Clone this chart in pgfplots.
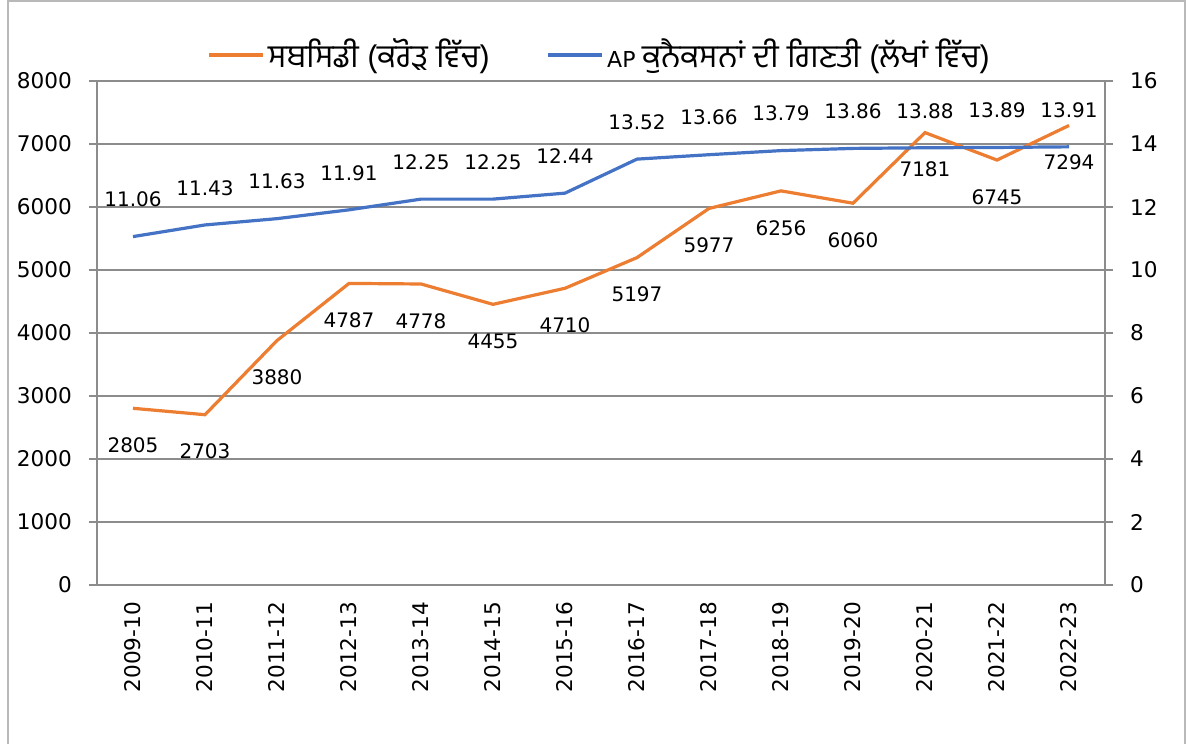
\documentclass[border=0pt]{standalone}
\usepackage{pgfplots}
\pgfplotsset{compat=1.18}
\usepackage{pgfplotstable}
\usepackage{fontspec}
\setmainfont{DejaVu Sans}
\newfontfamily\gur[Script=Gurmukhi]{Hind Jalandhar}
\definecolor{corange}{HTML}{ED7D31}
\definecolor{cblue}{HTML}{4472C4}
\definecolor{cgrid}{HTML}{8C8C8C}
\pgfplotstableread{
x sub nets
0 2805 11.06
1 2703 11.43
2 3880 11.63
3 4787 11.91
4 4778 12.25
5 4455 12.25
6 4710 12.44
7 5197 13.52
8 5977 13.66
9 6256 13.79
10 6060 13.86
11 7181 13.88
12 6745 13.89
13 7294 13.91
}\datatab
\begin{document}
\begin{tikzpicture}
\path[use as bounding box] (-48.5bp,-79.5bp) rectangle (547.5bp,292.5bp);
\fill[white] (-48.5bp,-79.5bp) rectangle (547.5bp,292.5bp);
\draw[gray!55, line width=0.8bp] (-44.5bp,-80bp) -- (-44.5bp,292bp) -- (544bp,292bp) -- (544bp,-80bp);
\pgfplotsset{
  every axis/.append style={
    scale only axis, width=504bp, height=252bp,
    at={(0,0)}, anchor=south west,
    xmin=-0.5, xmax=13.5,
    /pgf/number format/assume math mode=true,
    /pgf/number format/1000 sep={},
    tick label style={font=\fontsize{10.8bp}{13bp}\selectfont, text=black},
    axis line style={cgrid, line width=0.9bp},
    tick style={cgrid, line width=0.9bp},
    tick align=outside,
  }
}
\begin{axis}[
  axis x line*=bottom, axis y line*=left,
  ymin=0, ymax=8000, ytick={0,1000,...,8000},
  ymajorgrids, grid style={cgrid, line width=0.8bp},
  xtick={0,...,13},
  xticklabels={2009-10,2010-11,2011-12,2012-13,2013-14,2014-15,2015-16,2016-17,2017-18,2018-19,2019-20,2020-21,2021-22,2022-23},
  minor xtick={-0.5,0.5,...,13.5},
  major tick length=4bp, minor tick length=4bp,
  xtick style={draw=none},
  minor tick style={cgrid, line width=0.9bp, draw=cgrid},
  xticklabel style={rotate=90, anchor=east, xshift=-1bp},
  yticklabel style={xshift=-5bp},
  clip=false,
  point meta=explicit symbolic,
  nodes near coords,
  every node near coord/.style={anchor=center, yshift=-18.5bp, font=\fontsize{10bp}{12bp}\selectfont, text=black},
]
\addplot[corange, line width=1.6bp] table[x=x, y=sub, meta=sub] {\datatab};
\end{axis}
\begin{axis}[
  axis y line*=right, axis x line=none,
  ymin=0, ymax=16, ytick={0,2,...,16},
  major tick length=4bp,
  yticklabel style={xshift=5bp},
  clip=false,
  point meta=explicit symbolic,
  nodes near coords,
  every node near coord/.style={anchor=center, yshift=18.5bp, font=\fontsize{10bp}{12bp}\selectfont, text=black},
  legend columns=2,
  legend style={draw=none, fill=none, at={(0.5,1.0516)}, anchor=center,
    font=\fontsize{11bp}{13bp}\selectfont,
    /tikz/every even column/.append style={column sep=26bp}},
  legend image code/.code={\draw[#1, line width=1.6bp] (0bp,0bp) -- (27bp,0bp);},
]
\addlegendimage{corange}
\addlegendentry{{\gur\fontsize{16bp}{16bp}\selectfont ਸਬਸਿਡੀ (ਕਰੋੜ ਵਿੱਚ)}}
\addplot[cblue, line width=1.6bp] table[x=x, y=nets, meta=nets] {\datatab};
\addlegendentry{AP {\gur\fontsize{16bp}{16bp}\selectfont ਕੁਨੈਕਸਨਾਂ ਦੀ ਗਿਣਤੀ (ਲੱਖਾਂ ਵਿੱਚ)}}
\end{axis}
\end{tikzpicture}
\end{document}
